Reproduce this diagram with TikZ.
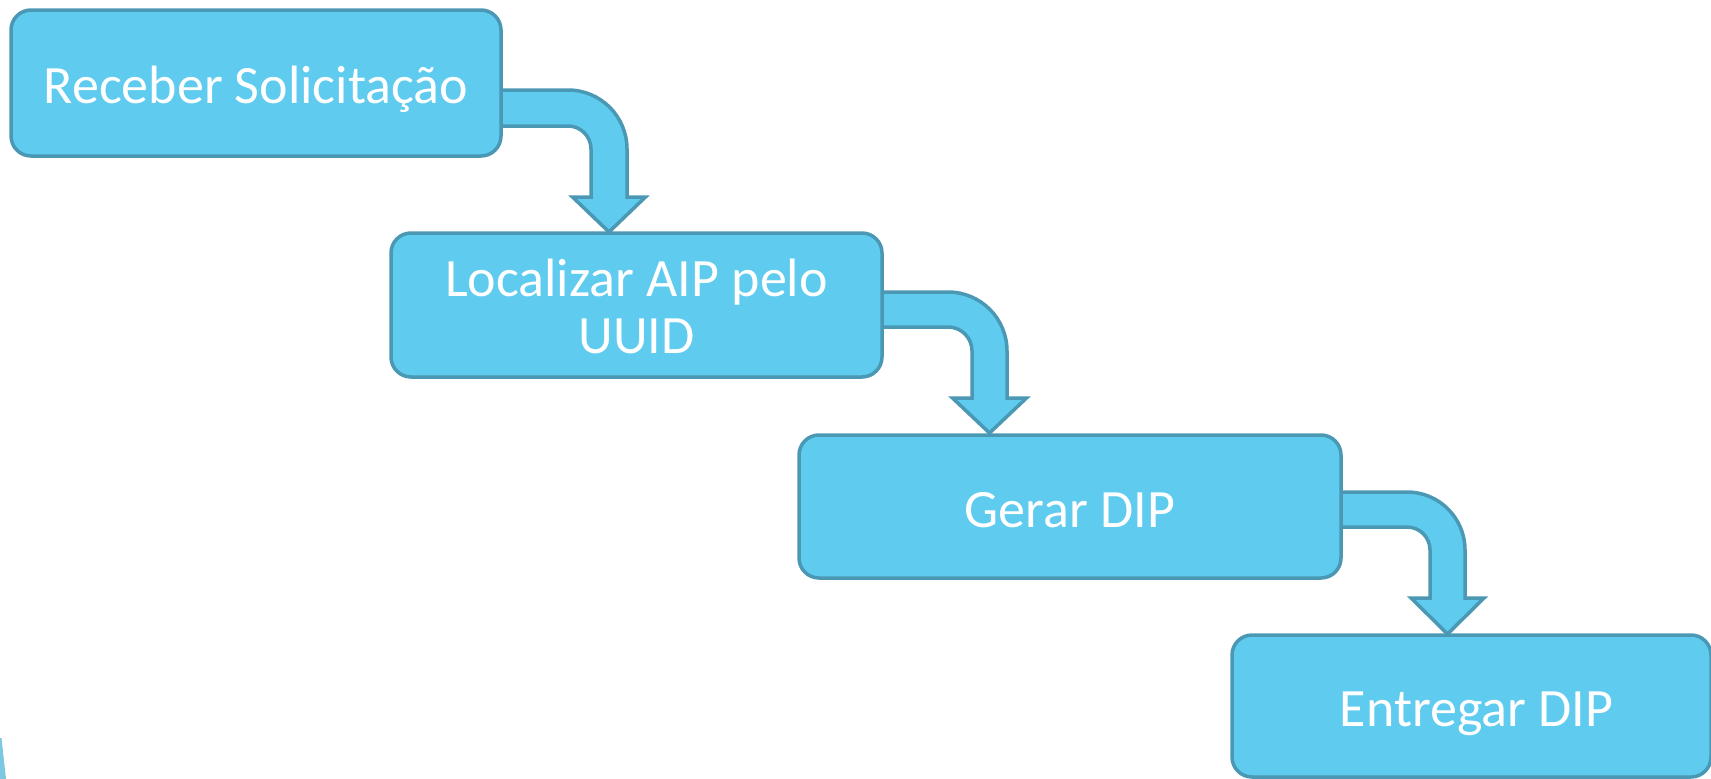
\documentclass[tikz,border=0pt]{standalone}
\usepackage{fontspec}
\setmainfont{Carlito}
\definecolor{boxfill}{HTML}{5ECBEF}
\definecolor{boxline}{HTML}{4A98B4}
\definecolor{sliver}{HTML}{7CC8E0}
\tikzset{
  stepbox/.style={draw=boxline, line width=3.5pt, fill=boxfill, rounded corners=20pt,
    inner sep=0pt, text=white, align=center,
    font=\fontsize{54}{57}\selectfont},
  oneline/.style={text height=41pt, text depth=0pt},
  bentarrow/.style={draw=boxline, line width=3.5pt, fill=boxfill, line join=miter}
}
\begin{document}
\begin{tikzpicture}[x=1pt,y=-1pt]
\useasboundingbox (0,0) rectangle (1711,779);
\fill[sliver] (0,738) -- (1.5,738) -- (6,779) -- (0,779) -- cycle;

% named anchors for the connectors
\coordinate (s1) at (495,90);
\coordinate (s2) at (876,292);
\coordinate (s3) at (1335,492);

% connectors (drawn first so the boxes cover their start)
\draw[bentarrow] (s1) -- (568,90) .. controls (600.6,90) and (627,116.4) .. (627,149)
  -- (627,197) -- (645.5,197) -- (609,232) -- (572.5,197) -- (591,197) -- (591,149)
  .. controls (591,136.3) and (580.7,126) .. (568,126) -- (495,126) -- cycle;
\draw[bentarrow] (s2) -- (948,292) .. controls (980.6,292) and (1007,318.4) .. (1007,351)
  -- (1007,398) -- (1026.5,398) -- (989.5,433) -- (952.5,398) -- (972,398) -- (972,351)
  .. controls (972,337.7) and (961.3,327) .. (948,327) -- (876,327) -- cycle;
\draw[bentarrow] (s3) -- (1407,492) .. controls (1439,492) and (1465,518) .. (1465,550)
  -- (1465,598) -- (1484,598) -- (1447.5,634) -- (1411,598) -- (1430,598) -- (1430,550)
  .. controls (1430,537.3) and (1419.7,527) .. (1407,527) -- (1335,527) -- cycle;

% boxes
\node[stepbox, oneline, minimum width=490pt, minimum height=146pt] (b1) at (256,83) {Receber Solicitação};
\node[stepbox, text height=96pt, text depth=0pt, minimum width=491pt, minimum height=144pt] (b2) at (636.5,305) {Localizar AIP pelo\\UUID};
\node[stepbox, oneline, minimum width=542pt, minimum height=143pt] (b3) at (1070,506.5) {Gerar DIP};
\node[stepbox, oneline, minimum width=479pt, minimum height=142pt] (b4) at (1471.5,706) {\hspace*{10pt}Entregar DIP};
\end{tikzpicture}
\end{document}
